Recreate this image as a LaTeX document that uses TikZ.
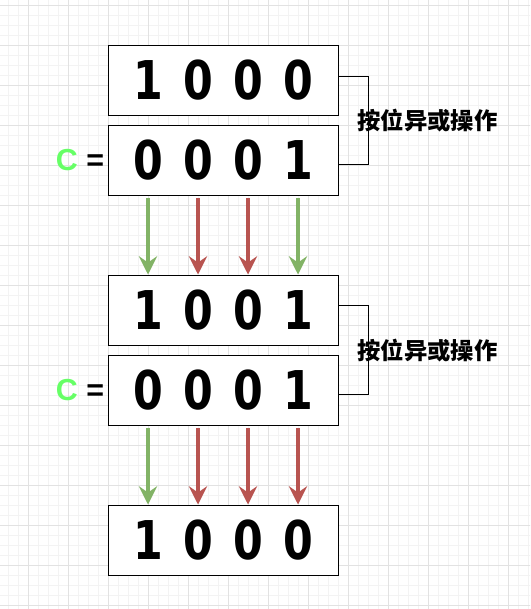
\documentclass[tikz,border=0pt]{standalone}
\usepackage{fontspec}
\usepackage{xcolor}
\usepackage{tikz}
\usetikzlibrary{arrows.meta, positioning, calc}

\newfontfamily\digitface{DejaVu Sans}[FakeStretch=0.8]
\newfontfamily\cjkface{Noto Sans CJK SC}
\newfontfamily\labelface{Liberation Sans}

\definecolor{keepgreen}{HTML}{82B366}
\definecolor{flipred}{HTML}{B85450}
\definecolor{cgreen}{HTML}{66FF66}
\definecolor{gridmajor}{HTML}{E2E2E2}
\definecolor{gridminor}{HTML}{F3F3F3}

% bold digits, one digit every 1.25cm
\newcommand{\bitfont}{\digitface\bfseries\fontsize{38}{40}\selectfont
  \setbox0\hbox{0}\spaceskip=\dimexpr1.25cm-\wd0\relax}

\begin{document}
\begin{tikzpicture}[
    >=Stealth,
    reg/.style={draw, line width=0.7pt, fill=white, minimum width=5.75cm,
                minimum height=1.75cm, inner sep=0pt, font=\bitfont},
    keep/.style={keepgreen, line width=2.4pt,
                 -{Stealth[length=13pt, width=13pt, inset=4.5pt]}},
    flip/.style={flipred, line width=2.4pt,
                 -{Stealth[length=13pt, width=13pt, inset=4.5pt]}},
    bracket/.style={draw, line width=0.7pt},
    xorlabel/.style={font=\cjkface\bfseries\fontsize{16.6}{18}\selectfont, inner sep=0pt},
    cvar/.style={font=\labelface\bfseries\fontsize{21.6}{24}\selectfont, inner sep=0pt},
]
    % Page and grid
    \useasboundingbox (0,0) rectangle (13.25,-15.225);
    \fill[white] (0,0) rectangle (13.25,-15.225);
    \begin{scope}
        \clip (0,0) rectangle (13.25,-15.225);
        \begin{scope}[shift={(0.7075,-0.125)}]
            \draw[gridminor, line width=0.5pt, step=0.25] (-1,-16) grid (13,1);
            \draw[gridmajor, line width=0.6pt, step=1] (-1,-16) grid (13,1);
        \end{scope}
    \end{scope}

    % Registers
    \node[reg] (B1) at (5.575, -2.0)    {1 0 0 0};
    \node[reg] (B2) at (5.575, -4.0125) {0 0 0 1};
    \node[reg] (B3) at (5.575, -7.75)   {1 0 0 1};
    \node[reg] (B4) at (5.575, -9.7625) {0 0 0 1};
    \node[reg] (B5) at (5.575, -13.5)   {1 0 0 0};

    % Operand labels
    \node[cvar, left=0.08cm of B2] (C1) {\textcolor{cgreen}{C} =};
    \node[cvar, left=0.08cm of B4] (C2) {\textcolor{cgreen}{C} =};

    % XOR brackets
    \draw[bracket] ([yshift=0.1cm]B1.east) -- ++(0.75,0) |- ([yshift=-0.11cm]B2.east);
    \draw[bracket] ([yshift=0.12cm]B3.east) -- ++(0.75,0) |- ([yshift=-0.11cm]B4.east);
    \node[xorlabel, anchor=west] (X1) at ($(B1.east)!0.5!(B2.east)+(0.47,0)$) {按位异或操作};
    \node[xorlabel, anchor=west] (X2) at ($(B3.east)!0.5!(B4.east)+(0.47,0)$) {按位异或操作};

    % First round
    \draw[keep] ($(B2.south)+(-1.875,-0.05)$) -- ($(B3.north)+(-1.875,0)$);
    \draw[flip] ($(B2.south)+(-0.625,-0.05)$) -- ($(B3.north)+(-0.625,0)$);
    \draw[flip] ($(B2.south)+(0.625,-0.05)$)  -- ($(B3.north)+(0.625,0)$);
    \draw[keep] ($(B2.south)+(1.875,-0.05)$)  -- ($(B3.north)+(1.875,0)$);

    % Second round
    \draw[keep] ($(B4.south)+(-1.875,-0.05)$) -- ($(B5.north)+(-1.875,0)$);
    \draw[flip] ($(B4.south)+(-0.625,-0.05)$) -- ($(B5.north)+(-0.625,0)$);
    \draw[flip] ($(B4.south)+(0.625,-0.05)$)  -- ($(B5.north)+(0.625,0)$);
    \draw[flip] ($(B4.south)+(1.875,-0.05)$)  -- ($(B5.north)+(1.875,0)$);
\end{tikzpicture}
\end{document}
